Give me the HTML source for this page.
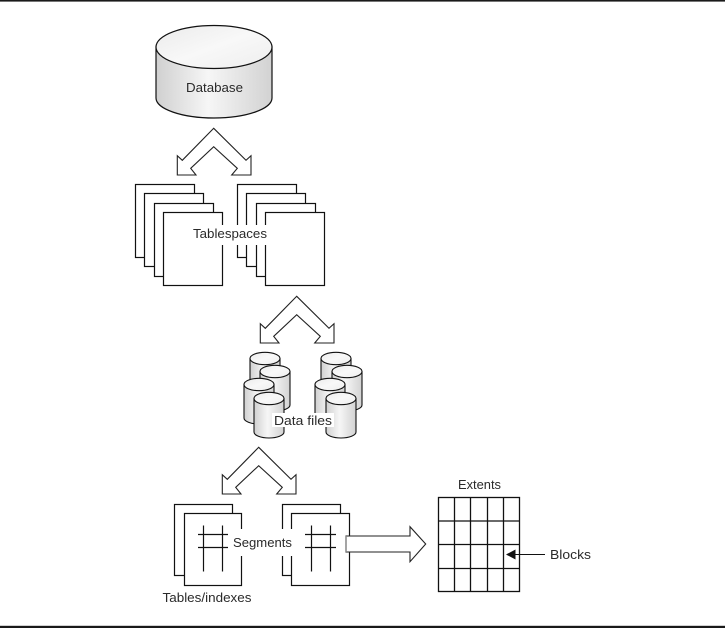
<!DOCTYPE html>
<html>
<head>
<meta charset="utf-8">
<style>
html,body{margin:0;padding:0;background:#fff;}
svg{display:block;}
text{font-family:"Liberation Sans",sans-serif;font-size:13px;fill:#2a2a2a;}
</style>
</head>
<body>
<svg width="725" height="628" viewBox="0 0 725 628" xmlns="http://www.w3.org/2000/svg">
<defs>
<linearGradient id="side" x1="0" y1="0" x2="1" y2="0">
<stop offset="0" stop-color="#d0d0d0"/>
<stop offset="0.45" stop-color="#f6f6f6"/>
<stop offset="1" stop-color="#d2d2d2"/>
</linearGradient>
<linearGradient id="top" x1="0" y1="0" x2="1" y2="1">
<stop offset="0" stop-color="#ebebeb"/>
<stop offset="0.5" stop-color="#f8f8f8"/>
<stop offset="1" stop-color="#eeeeee"/>
</linearGradient>
<path id="arrow" d="M213.7 128.3L246 160.3 251 155.7 251 175 231.7 175 237.3 168.3 213.7 146.7 190.7 168.3 196 175 177.3 175 177.3 155.7 182.3 160.3Z" fill="#fff" stroke="#222" stroke-width="1.1"/>
<g id="cyl">
<path d="M0 6.5V40A15 6 0 0 0 30 40V6.5Z" fill="url(#side)" stroke="#111" stroke-width="1.1"/>
<ellipse cx="15" cy="6.5" rx="15" ry="6.2" fill="url(#top)" stroke="#111" stroke-width="1.1"/>
</g>
</defs>

<rect x="0" y="0" width="725" height="1.6" fill="#1a1a1a"/>
<rect x="0" y="625.8" width="725" height="2.2" fill="#1a1a1a"/>

<!-- Database -->
<path d="M156 47V98C156 109 182 118 214 118S272 109 272 98V47Z" fill="url(#side)" stroke="#111" stroke-width="1.2"/>
<ellipse cx="214" cy="47" rx="58" ry="21.5" fill="url(#top)" stroke="#111" stroke-width="1.2"/>
<text x="186" y="92" textLength="57" lengthAdjust="spacingAndGlyphs">Database</text>

<use href="#arrow"/>

<!-- Tablespaces -->
<g fill="#fff" stroke="#111" stroke-width="1.2">
<rect x="135.5" y="184.5" width="59" height="73"/>
<rect x="144.5" y="193.5" width="59" height="73"/>
<rect x="154.5" y="203.5" width="59" height="73"/>
<rect x="163.5" y="212.5" width="59" height="73"/>
<rect x="237.5" y="184.5" width="59" height="73"/>
<rect x="246.5" y="193.5" width="59" height="73"/>
<rect x="256.5" y="203.5" width="59" height="73"/>
<rect x="265.5" y="212.5" width="59" height="73"/>
</g>
<rect x="192" y="225" width="76.5" height="20" fill="#fff"/>
<text x="193" y="238" textLength="74" lengthAdjust="spacingAndGlyphs">Tablespaces</text>

<use href="#arrow" transform="translate(83 168)"/>

<!-- Data files -->
<use href="#cyl" x="250" y="352"/>
<use href="#cyl" x="260" y="365"/>
<use href="#cyl" x="244" y="378"/>
<use href="#cyl" x="254" y="392"/>
<use href="#cyl" x="321" y="352"/>
<use href="#cyl" x="332" y="365"/>
<use href="#cyl" x="315" y="378"/>
<use href="#cyl" x="326" y="392"/>
<rect x="272" y="413" width="62" height="14" fill="#fff"/>
<text x="274" y="425" textLength="58" lengthAdjust="spacingAndGlyphs">Data files</text>

<use href="#arrow" transform="translate(45 319)"/>

<!-- Segments -->
<g fill="#fff" stroke="#111" stroke-width="1.2">
<rect x="174.5" y="504.5" width="58" height="71"/>
<rect x="184.5" y="513.5" width="57" height="72"/>
<rect x="282.5" y="504.5" width="58" height="71"/>
<rect x="291.5" y="513.5" width="58" height="72"/>
</g>
<g stroke="#111" stroke-width="1.2">
<line x1="203.5" y1="525.5" x2="203.5" y2="571.5"/>
<line x1="222.5" y1="525.5" x2="222.5" y2="571.5"/>
<line x1="198" y1="534.5" x2="228" y2="534.5"/>
<line x1="198" y1="547.5" x2="228" y2="547.5"/>
<line x1="311.5" y1="525.5" x2="311.5" y2="571.5"/>
<line x1="330.5" y1="525.5" x2="330.5" y2="571.5"/>
<line x1="305" y1="534.5" x2="336" y2="534.5"/>
<line x1="305" y1="547.5" x2="336" y2="547.5"/>
</g>
<rect x="229" y="529" width="64" height="27" fill="#fff"/>
<text x="233" y="547" textLength="59" lengthAdjust="spacingAndGlyphs">Segments</text>
<text x="162.5" y="602" textLength="89" lengthAdjust="spacingAndGlyphs">Tables/indexes</text>

<!-- Big arrow -->
<path d="M346 536H410V526.7L425.7 544 410 561.7V552H346Z" fill="#fff" stroke="#222" stroke-width="1.1"/>
<line x1="346" y1="536" x2="346" y2="552" stroke="#888" stroke-width="1.4"/>

<!-- Extents grid -->
<g fill="none" stroke="#111" stroke-width="1.3">
<rect x="438.5" y="497.5" width="81" height="94"/>
<line x1="454.5" y1="497.5" x2="454.5" y2="591.5"/>
<line x1="470.5" y1="497.5" x2="470.5" y2="591.5"/>
<line x1="487.5" y1="497.5" x2="487.5" y2="591.5"/>
<line x1="503.5" y1="497.5" x2="503.5" y2="591.5"/>
<line x1="438.5" y1="521" x2="519.5" y2="521"/>
<line x1="438.5" y1="544.5" x2="519.5" y2="544.5"/>
<line x1="438.5" y1="568.5" x2="519.5" y2="568.5"/>
</g>
<text x="458" y="489" textLength="43" lengthAdjust="spacingAndGlyphs">Extents</text>
<line x1="514" y1="554.5" x2="545" y2="554.5" stroke="#111" stroke-width="1.1"/>
<path d="M506 554.5L515.5 549.5V559.5Z" fill="#111"/>
<text x="550" y="559" textLength="41" lengthAdjust="spacingAndGlyphs">Blocks</text>
</svg>
</body>
</html>
